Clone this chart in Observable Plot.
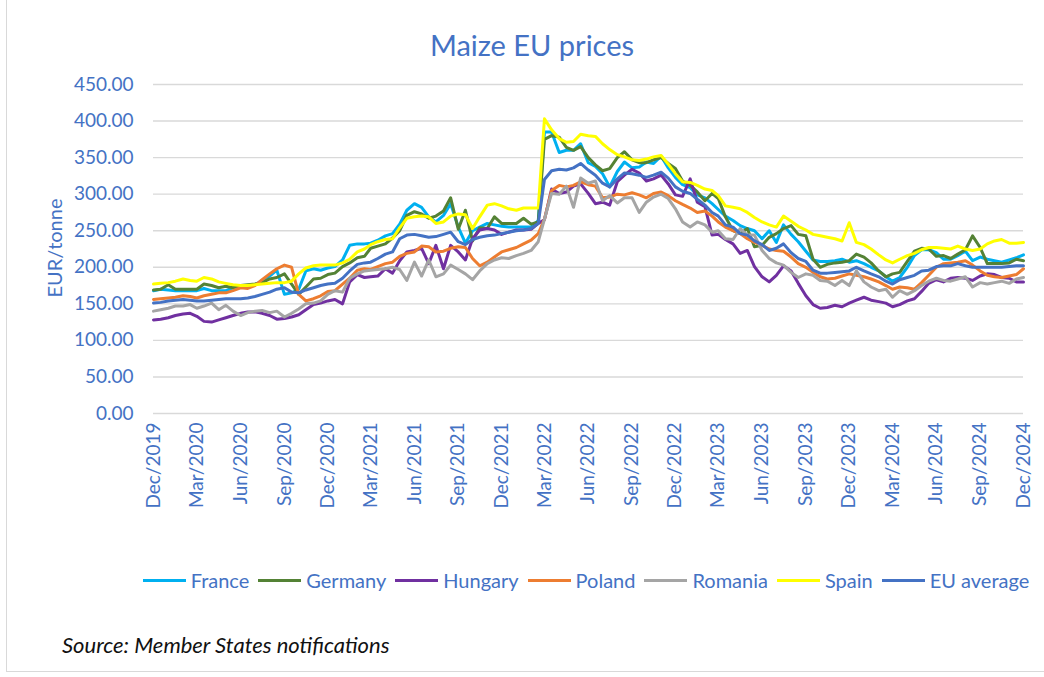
<!DOCTYPE html>
<html>
<head>
<meta charset="utf-8">
<script src="https://cdn.jsdelivr.net/npm/d3@7"></script>
<script src="https://cdn.jsdelivr.net/npm/@observablehq/plot@0.6"></script>
<style>
  html, body { margin: 0; padding: 0; background: #fff; }
  #wrap { position: relative; width: 1044px; height: 677px; overflow: hidden; font-family: Lato, "Open Sans", sans-serif; }
  #frame { position: absolute; left: 6px; top: -2px; width: 1100px; height: 673px; border-left: 1px solid #d9d9d9; border-bottom: 1px solid #d9d9d9; }
  #title { position: absolute; left: 0; width: 1064px; top: 27px; text-align: center; font-size: 29px; color: #4472C4; }
  #ylab { position: absolute; left: 54px; top: 248px; transform: translate(-50%, -50%) rotate(-90deg); font-size: 20px; color: #4472C4; white-space: nowrap; }
  #chart { position: absolute; left: 0; top: 0; }
  #legend { position: absolute; left: 139px; width: 894px; top: 568px; display: flex; justify-content: center; align-items: center; gap: 9px; font-size: 20px; color: #4472C4; white-space: nowrap; }
  .item { display: flex; align-items: center; }
  .sw { width: 43px; height: 3px; margin-right: 5px; }
  #source { position: absolute; left: 62px; top: 631px; font-size: 22px; font-style: italic; color: #111; }
</style>
</head>
<body>
<div id="wrap">
  <div id="frame"></div>
  <div id="chart"></div>
  <div id="title">Maize EU prices</div>
  <div id="ylab">EUR/tonne</div>
  <div id="legend"></div>
  <div id="source">Source: Member States notifications</div>
</div>
<script>
// Series names and colours
const seriesNames = ["France", "Germany", "Hungary", "Poland", "Romania", "Spain", "EU average"];
const seriesColors = ["#00B0F0", "#548235", "#7030A0", "#ED7D31", "#A5A5A5", "#FFFF00", "#4472C4"];

// Values (EUR/tonne), twice a month from Dec 2019 to Dec 2024
const france = [168,170,169,168,168,168,168,171,168,168,168,172,175,173,176,182,188,196,163,165,
  170,195,198,196,199,201,210,230,232,232,
  233,237,243,246,259,278,287,282,269,262,
  271,287,255,233,250,255,260,258,256,255,
  255,255,255,264,385,385,357,360,360,369,
  343,338,328,310,331,344,336,337,344,342,
  352,336,323,313,309,299,295,287,279,270,
  264,257,253,250,239,250,234,258,245,235,
  222,210,208,208,209,211,207,209,205,200,
  195,187,181,186,200,216,224,224,220,211,
  211,216,222,209,214,211,209,207,210,213,217];
const germany = [169,170,176,170,170,170,170,177,175,172,174,172,175,176,177,179,184,186,191,177,
  163,173,184,185,190,192,201,206,213,215,
  226,229,232,240,250,271,276,273,267,270,
  277,295,252,278,236,254,253,269,260,260,
  260,267,259,262,375,380,378,364,360,365,
  350,340,332,335,350,358,347,343,343,347,
  350,342,335,318,312,303,291,301,294,269,
  250,246,253,228,230,241,246,253,257,245,
  243,211,200,204,206,207,209,218,214,206,
  195,187,191,193,208,222,226,225,215,216,
  212,218,224,243,227,205,205,205,206,211,209];
const hungary = [128,129,131,134,136,137,133,126,125,128,131,134,137,139,139,137,134,129,130,132,
  135,142,149,151,154,156,150,180,190,186,
  187,188,198,192,209,221,223,226,205,230,
  198,230,221,210,239,251,253,251,245,248,
  251,251,252,260,265,307,301,303,311,314,
  301,287,289,285,317,326,334,329,318,321,
  326,314,299,297,321,289,283,244,245,238,
  232,219,223,201,187,180,189,202,195,178,
  161,149,144,145,148,146,151,155,159,155,
  153,151,146,149,154,157,167,178,183,180,
  185,186,185,182,188,191,190,186,185,180,180];
const poland = [156,157,158,159,161,160,158,161,163,165,165,168,172,171,175,183,191,198,203,200,
  163,154,157,161,167,168,177,185,196,198,
  197,201,205,207,215,219,221,229,228,221,
  222,226,228,227,212,202,207,214,221,224,
  227,232,237,246,266,305,312,310,312,317,
  313,311,295,296,300,299,302,299,295,301,
  303,298,291,286,281,275,277,270,262,255,
  250,246,239,234,230,225,223,222,214,205,
  200,193,187,184,185,188,191,189,187,184,
  180,175,170,173,172,170,179,189,200,205,
  206,207,209,203,195,189,187,186,188,190,198];
const romania = [140,142,144,147,147,149,144,147,151,142,148,140,134,138,140,141,138,140,132,137,
  143,150,151,154,163,168,166,185,191,195,
  196,197,198,200,197,182,207,188,210,187,
  191,203,197,191,183,195,205,210,213,212,
  216,219,223,235,266,301,300,311,282,322,
  315,318,291,298,288,295,295,275,289,296,
  300,294,280,262,255,262,258,248,250,239,
  238,253,244,244,223,212,206,203,193,186,
  191,189,182,181,175,182,175,195,180,173,
  168,170,159,168,163,168,175,181,185,182,
  181,184,187,173,179,177,179,181,178,184,186];
const spain = [177,178,179,181,184,182,181,186,184,180,178,176,175,175,176,177,178,179,179,181,
  191,199,202,203,203,203,206,211,221,225,
  231,235,238,239,254,267,269,270,269,260,
  262,270,273,272,253,269,285,287,284,280,
  278,281,281,281,403,388,376,371,372,382,
  380,379,369,361,354,351,347,346,348,351,
  353,341,328,317,316,312,307,305,298,284,
  282,280,275,268,262,258,255,270,263,256,
  251,245,243,241,239,236,261,234,231,225,
  217,210,206,211,216,219,224,227,227,226,
  225,229,225,223,225,232,236,238,233,233,234];
const euAverage = [151,152,154,155,156,155,154,154,155,156,157,157,157,158,160,163,166,170,172,166,
  165,169,172,175,177,178,185,195,204,206,
  207,212,218,221,239,244,245,243,241,242,
  245,248,235,231,238,241,243,244,246,248,
  250,251,253,260,320,332,334,333,336,342,
  333,326,315,310,321,329,328,326,323,326,
  330,322,310,304,301,293,285,275,270,258,
  255,246,244,236,231,223,226,232,220,212,
  208,196,192,192,193,194,195,200,195,191,
  187,181,177,183,186,189,195,196,201,202,
  202,205,202,200,200,200,200,200,201,202,202];

const seriesValues = [france, germany, hungary, poland, romania, spain, euAverage];

// Y ticks
const yTicks = [0, 50, 100, 150, 200, 250, 300, 350, 400, 450];

// Observation dates: 1st and 16th of each month, Dec 2019 .. Dec 2024
const dates = d3.range(france.length).map(i => new Date(Date.UTC(2019, 11 + Math.floor(i / 2), i % 2 ? 16 : 1)));
// Quarterly x ticks
const xTicks = d3.range(21).map(k => new Date(Date.UTC(2019, 11 + 3 * k, 1)));

const rows = [];
seriesNames.forEach((name, s) => {
  seriesValues[s].forEach((v, i) => rows.push({series: name, date: dates[i], value: v}));
});

const chart = Plot.plot({
  width: 1044,
  height: 540,
  marginLeft: 153,
  marginRight: 21,
  marginTop: 84,
  marginBottom: 127,
  style: {fontFamily: "Lato, 'Open Sans', sans-serif", fontSize: "19px", color: "#4472C4", background: "transparent"},
  x: {type: "utc", domain: [xTicks[0], xTicks[xTicks.length - 1]], ticks: xTicks, tickFormat: d3.utcFormat("%b/%Y"), tickRotate: -90, tickSize: 0, tickPadding: 9, label: null},
  y: {domain: [0, 450], ticks: yTicks, tickFormat: d => d.toFixed(2), tickSize: 0, tickPadding: 20, label: null},
  color: {domain: seriesNames, range: seriesColors},
  marks: [
    Plot.ruleY(yTicks, {stroke: "#d9d9d9", strokeWidth: 1.4}),
    Plot.line(rows, {x: "date", y: "value", z: "series", stroke: "series", strokeWidth: 3, strokeLinejoin: "round", strokeLinecap: "round"})
  ]
});
document.getElementById("chart").appendChild(chart);

const legend = document.getElementById("legend");
seriesNames.forEach((name, i) => {
  const item = document.createElement("div");
  item.className = "item";
  const sw = document.createElement("span");
  sw.className = "sw";
  sw.style.background = seriesColors[i];
  const label = document.createElement("span");
  label.textContent = name;
  item.appendChild(sw);
  item.appendChild(label);
  legend.appendChild(item);
});
</script>
</body>
</html>
